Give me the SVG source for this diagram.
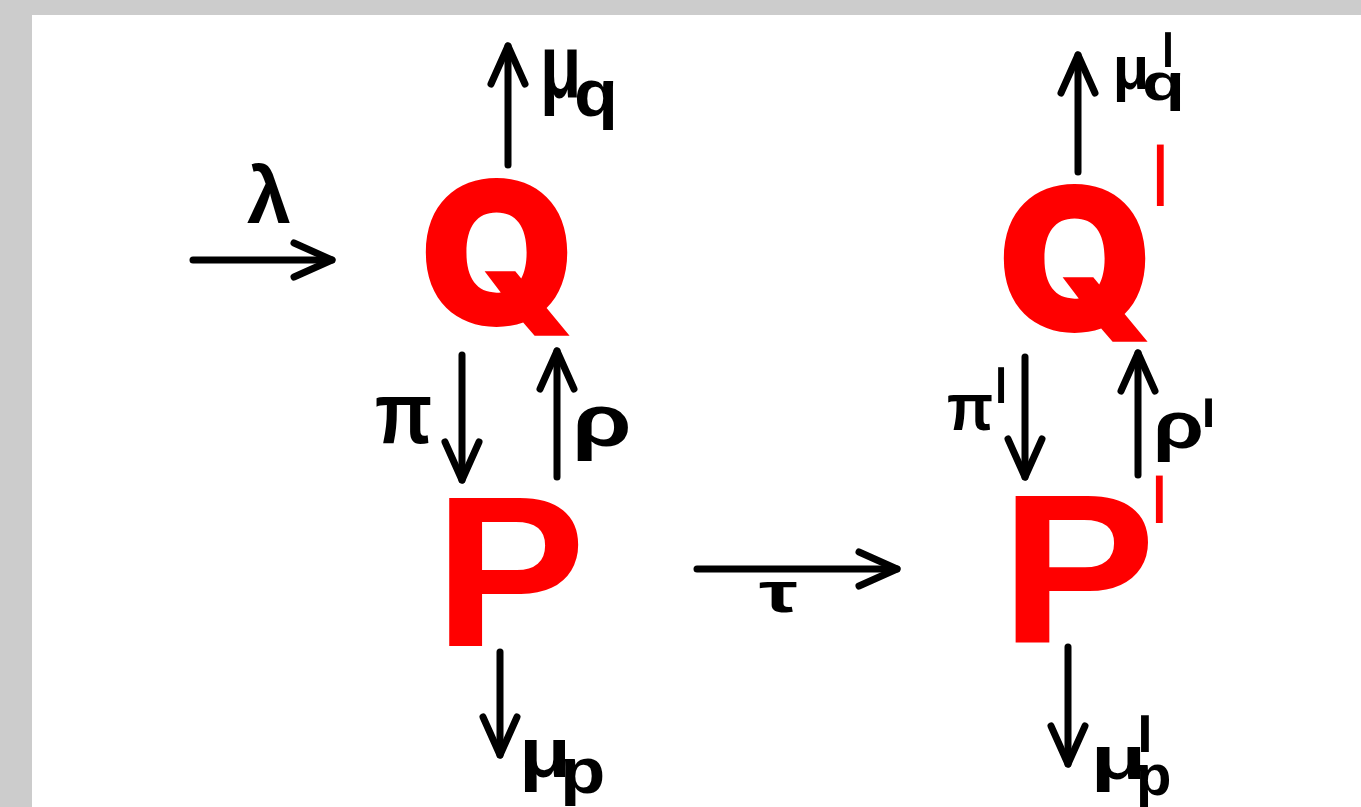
<svg xmlns="http://www.w3.org/2000/svg" width="1361" height="807" viewBox="0 0 1361 807">
<defs>
<style>
.bg{fill:#cccccc}
.panel{fill:#ffffff}
.arr{fill:none;stroke:#000;stroke-width:7;stroke-linecap:round;stroke-linejoin:round}
.nq{font-family:Inter,"Liberation Sans",sans-serif;font-weight:900;fill:#ff0000}
.np{font-family:"Liberation Sans",Arial,sans-serif;font-weight:bold;fill:#ff0000}
.lbl{font-family:"Liberation Sans",Arial,sans-serif;font-weight:bold;fill:#000}
.pr{font-family:"DejaVu Sans",sans-serif;font-weight:normal;fill:#000}
.prr{font-family:"DejaVu Sans",sans-serif;font-weight:normal;fill:#ff0000}
</style>
<marker id="ah" markerUnits="userSpaceOnUse" markerWidth="80" markerHeight="80" viewBox="-50 -40 80 80" refX="0" refY="0" orient="auto" overflow="visible">
<path d="M-38,-17 L0,0 L-38,17" fill="none" stroke="#000" stroke-width="7" stroke-linecap="round" stroke-linejoin="round"/>
</marker>
</defs>
<rect class="bg" x="0" y="0" width="1361" height="807"/>
<rect class="panel" x="32" y="15" width="1329" height="792"/>

<g id="connectors">
<path class="arr" d="M193,260 L332,260" marker-end="url(#ah)"/>
<path class="arr" d="M508,165 L508,46" marker-end="url(#ah)"/>
<path class="arr" d="M462,355 L462,480" marker-end="url(#ah)"/>
<path class="arr" d="M557,477 L557,351" marker-end="url(#ah)"/>
<path class="arr" d="M500,652 L500,755" marker-end="url(#ah)"/>
<path class="arr" d="M697,569 L897,569" marker-end="url(#ah)"/>
<path class="arr" d="M1078,172 L1078,55" marker-end="url(#ah)"/>
<path class="arr" d="M1025,357 L1025,477" marker-end="url(#ah)"/>
<path class="arr" d="M1138,475 L1138,353" marker-end="url(#ah)"/>
<path class="arr" d="M1068,647 L1068,764" marker-end="url(#ah)"/>
</g>

<g id="node-Q">
<text class="nq" x="419" y="325" font-size="200">Q</text>
</g>
<g id="node-P">
<text class="np" x="434" y="646" font-size="215" textLength="152" lengthAdjust="spacingAndGlyphs">P</text>
</g>
<g id="node-Q2">
<text class="nq"><tspan x="997" y="331" font-size="200">Q</tspan><tspan class="prr" x="1149" y="309.5" font-size="226" textLength="22.6" lengthAdjust="spacingAndGlyphs">'</tspan></text>
</g>
<g id="node-P2">
<text class="np"><tspan x="1000" y="643" font-size="214" textLength="156" lengthAdjust="spacingAndGlyphs">P</tspan><tspan class="prr" x="1148" y="602.6" font-size="175" textLength="22.6" lengthAdjust="spacingAndGlyphs">'</tspan></text>
</g>

<g id="labels">
<text id="lbl-lambda" class="lbl" x="247" y="223" font-size="79">λ</text>
<text id="lbl-muQ" class="lbl"><tspan x="540" y="97" font-size="91" textLength="41.4" lengthAdjust="spacingAndGlyphs">μ</tspan><tspan x="574" y="116" font-size="66" textLength="44" lengthAdjust="spacingAndGlyphs">q</tspan></text>
<text id="lbl-pi" class="lbl" transform="translate(375,443) scale(0.86,1)" x="0" y="0" font-size="87">π</text>
<text id="lbl-rho" class="lbl" x="572" y="446" font-size="74" textLength="59.7" lengthAdjust="spacingAndGlyphs">ρ</text>
<text id="lbl-muP" class="lbl"><tspan x="519" y="777" font-size="71" textLength="52" lengthAdjust="spacingAndGlyphs">μ</tspan><tspan x="560" y="793" font-size="64" textLength="45.4" lengthAdjust="spacingAndGlyphs">p</tspan></text>
<text id="lbl-tau" class="lbl" transform="translate(759,612) scale(1.5,1)" x="0" y="0" font-size="58">τ</text>
<text id="lbl-muQ2" class="lbl"><tspan x="1112.8" y="89" font-size="62" textLength="36.4" lengthAdjust="spacingAndGlyphs">μ</tspan><tspan x="1142" y="100" font-size="52" textLength="42.9" lengthAdjust="spacingAndGlyphs">q</tspan><tspan class="pr" x="1158.3" y="125.6" font-size="128" textLength="19.4" lengthAdjust="spacingAndGlyphs">'</tspan></text>
<text id="lbl-pi2" class="lbl" transform="translate(947,430) scale(0.9,1)"><tspan x="0" y="0" font-size="67">π</tspan><tspan class="pr" x="49.2" y="34.4" font-size="132" textLength="21.8" lengthAdjust="spacingAndGlyphs">'</tspan></text>
<text id="lbl-rho2" class="lbl"><tspan x="1153" y="448" font-size="67" textLength="51" lengthAdjust="spacingAndGlyphs">ρ</tspan><tspan class="pr" x="1197.2" y="474.6" font-size="105" textLength="22.6" lengthAdjust="spacingAndGlyphs">'</tspan></text>
<text id="lbl-muP2" class="lbl"><tspan x="1090.6" y="779" font-size="62" textLength="56" lengthAdjust="spacingAndGlyphs">μ</tspan><tspan x="1136" y="795" font-size="58">p</tspan><tspan class="pr" x="1132" y="814" font-size="136" textLength="25.8" lengthAdjust="spacingAndGlyphs">'</tspan></text>
</g>
</svg>
